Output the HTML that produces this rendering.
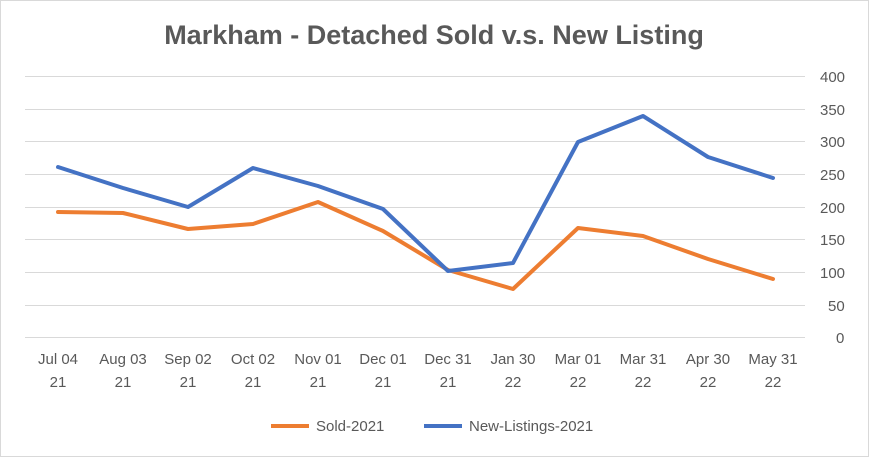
<!DOCTYPE html>
<html><head><meta charset="utf-8"><style>
body{margin:0;background:#fff;}
svg{display:block;font-family:"Liberation Sans",sans-serif;}
</style></head><body>
<svg width="869" height="457" viewBox="0 0 869 457">
<rect x="0.5" y="0.5" width="868" height="456" fill="#fff" stroke="#d9d9d9"/>
<text x="434" y="44" text-anchor="middle" font-size="27" font-weight="bold" fill="#595959">Markham - Detached Sold v.s. New Listing</text>
<g stroke="#d9d9d9" stroke-width="1">
<line x1="25" x2="805" y1="76.5" y2="76.5"/><line x1="25" x2="805" y1="109.5" y2="109.5"/>
<line x1="25" x2="805" y1="141.5" y2="141.5"/><line x1="25" x2="805" y1="174.5" y2="174.5"/>
<line x1="25" x2="805" y1="207.5" y2="207.5"/><line x1="25" x2="805" y1="239.5" y2="239.5"/>
<line x1="25" x2="805" y1="272.5" y2="272.5"/><line x1="25" x2="805" y1="305.5" y2="305.5"/>
<line x1="25" x2="805" y1="337.5" y2="337.5"/>
</g>
<g font-size="15" fill="#595959">
<text x="820" y="82">400</text><text x="820" y="115">350</text><text x="820" y="147">300</text>
<text x="820" y="180">250</text><text x="820" y="213">200</text><text x="820" y="245">150</text>
<text x="820" y="278">100</text><text x="828" y="311">50</text><text x="836" y="343">0</text>
</g>
<g font-size="15" fill="#595959" text-anchor="middle">
<text x="58" y="364">Jul 04</text><text x="58" y="387">21</text>
<text x="123" y="364">Aug 03</text><text x="123" y="387">21</text>
<text x="188" y="364">Sep 02</text><text x="188" y="387">21</text>
<text x="253" y="364">Oct 02</text><text x="253" y="387">21</text>
<text x="318" y="364">Nov 01</text><text x="318" y="387">21</text>
<text x="383" y="364">Dec 01</text><text x="383" y="387">21</text>
<text x="448" y="364">Dec 31</text><text x="448" y="387">21</text>
<text x="513" y="364">Jan 30</text><text x="513" y="387">22</text>
<text x="578" y="364">Mar 01</text><text x="578" y="387">22</text>
<text x="643" y="364">Mar 31</text><text x="643" y="387">22</text>
<text x="708" y="364">Apr 30</text><text x="708" y="387">22</text>
<text x="773" y="364">May 31</text><text x="773" y="387">22</text>
</g>
<polyline fill="none" stroke="#ed7d31" stroke-width="4" stroke-linejoin="round" stroke-linecap="round" points="58,212 123,213 188,229 253,224 318,202 383,231 448,270 513,289 578,228 643,236 708,259 773,279"/>
<polyline fill="none" stroke="#4472c4" stroke-width="4" stroke-linejoin="round" stroke-linecap="round" points="58,167 123,188 188,207 253,168 318,186 383,209 448,271 513,263 578,142 643,116 708,157 773,178"/>
<line x1="271" x2="309" y1="426" y2="426" stroke="#ed7d31" stroke-width="4"/>
<text x="316" y="431" font-size="15" fill="#595959">Sold-2021</text>
<line x1="424" x2="462" y1="426" y2="426" stroke="#4472c4" stroke-width="4"/>
<text x="469" y="431" font-size="15" fill="#595959">New-Listings-2021</text>
</svg>
</body></html>
